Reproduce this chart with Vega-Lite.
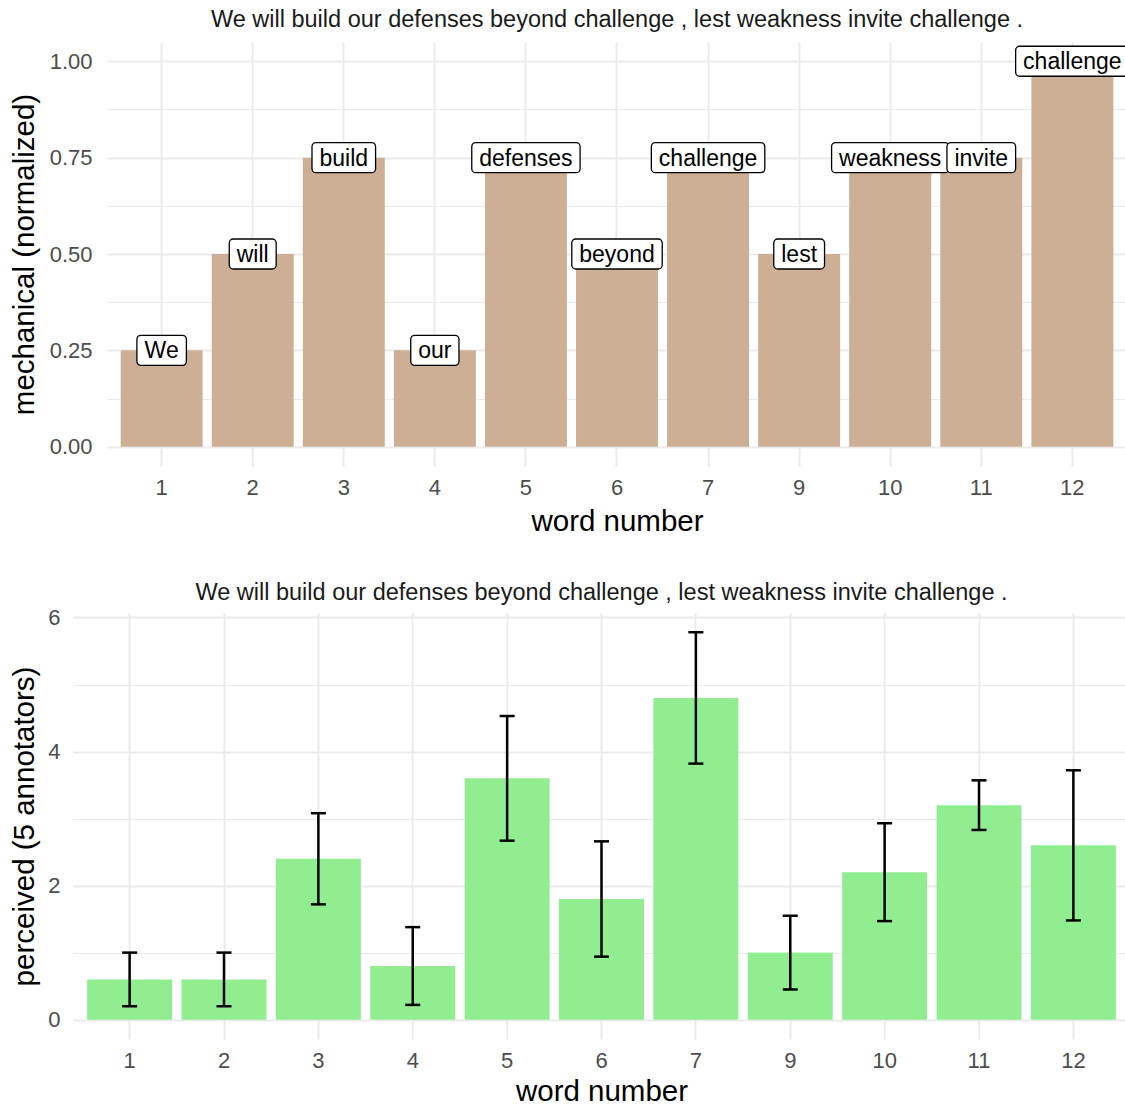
{
  "$schema": "https://vega.github.io/schema/vega-lite/v6.json",
  "background": "white",
  "padding": {"left": 8, "top": 7, "right": 0, "bottom": 0},
  "spacing": 44,
  "config": {
    "font": "Liberation Sans",
    "view": {"stroke": null},
    "axis": {
      "domain": false,
      "ticks": false,
      "gridColor": "#EBEBEB",
      "labelColor": "#4D4D4D",
      "labelFontSize": 22,
      "labelFont": "Liberation Sans",
      "titleFont": "Liberation Sans",
      "titleFontSize": 29.5,
      "titleFontWeight": "normal",
      "titleColor": "black"
    },
    "title": {"fontSize": 23.5, "fontWeight": "normal", "color": "#1A1A1A", "font": "Liberation Sans", "frame": "group"}
  },
  "datasets": {
    "mech": [
      {"n": "1", "word": "We", "mech": 0.25},
      {"n": "2", "word": "will", "mech": 0.5},
      {"n": "3", "word": "build", "mech": 0.75},
      {"n": "4", "word": "our", "mech": 0.25},
      {"n": "5", "word": "defenses", "mech": 0.75},
      {"n": "6", "word": "beyond", "mech": 0.5},
      {"n": "7", "word": "challenge", "mech": 0.75},
      {"n": "9", "word": "lest", "mech": 0.5},
      {"n": "10", "word": "weakness", "mech": 0.75},
      {"n": "11", "word": "invite", "mech": 0.75},
      {"n": "12", "word": "challenge", "mech": 1.0}
    ],
    "perc": [
      {"n": "1", "perc": 0.6, "lo": 0.2, "hi": 1.0},
      {"n": "2", "perc": 0.6, "lo": 0.2, "hi": 1.0},
      {"n": "3", "perc": 2.4, "lo": 1.72, "hi": 3.08},
      {"n": "4", "perc": 0.8, "lo": 0.22, "hi": 1.38},
      {"n": "5", "perc": 3.6, "lo": 2.67, "hi": 4.53},
      {"n": "6", "perc": 1.8, "lo": 0.94, "hi": 2.66},
      {"n": "7", "perc": 4.8, "lo": 3.82, "hi": 5.78},
      {"n": "9", "perc": 1.0, "lo": 0.45, "hi": 1.55},
      {"n": "10", "perc": 2.2, "lo": 1.47, "hi": 2.93},
      {"n": "11", "perc": 3.2, "lo": 2.83, "hi": 3.57},
      {"n": "12", "perc": 2.6, "lo": 1.48, "hi": 3.72}
    ],
    "blank": [{"k": 1}]
  },
  "vconcat": [
    {
      "spacing": 0,
      "hconcat": [
        {"width": 1, "height": 1, "data": {"name": "blank"}, "mark": {"type": "text", "text": ""}, "encoding": {}},
        {
          "width": 1020,
          "height": 424,
          "title": {"text": "We will build our defenses beyond challenge , lest weakness invite challenge .", "offset": 11},
          "data": {"name": "mech"},
          "transform": [
            {"calculate": "23*(0.556*length(datum.word) - 0.334*length(replace(datum.word, regexp('[^il]','g'), '')) - 0.278*length(replace(datum.word, regexp('[^ft]','g'), '')) - 0.223*length(replace(datum.word, regexp('[^r]','g'), '')) - 0.056*length(replace(datum.word, regexp('[^cksvxyz]','g'), '')) + 0.166*length(replace(datum.word, regexp('[^w]','g'), '')) + 0.388*length(replace(datum.word, regexp('[^W]','g'), ''))) + 15", "as": "bw"}
          ],
          "encoding": {
            "x": {
              "field": "n", "type": "ordinal", "sort": null,
              "scale": {"paddingInner": 0.1, "paddingOuter": 0.15},
              "axis": {"title": "word number", "labelAngle": 0, "grid": true, "gridWidth": 2, "labelPadding": 11, "titlePadding": 9}
            }
          },
          "layer": [
            {
              "mark": {"type": "bar", "color": "#CDAF95"},
              "encoding": {
                "y": {
                  "field": "mech", "type": "quantitative",
                  "scale": {"domain": [-0.05, 1.05], "nice": false, "zero": false},
                  "axis": {
                    "title": "mechanical (normalized)",
                    "values": [0, 0.125, 0.25, 0.375, 0.5, 0.625, 0.75, 0.875, 1],
                    "labelExpr": "datum.value % 0.25 === 0 ? format(datum.value, '.2f') : ''",
                    "gridWidth": {"condition": {"test": "datum.value % 0.25 !== 0", "value": 1}, "value": 2},
                    "labelPadding": 15,
                    "titlePadding": 10
                  }
                },
                "y2": {"datum": 0}
              }
            },
            {
              "mark": {"type": "tick", "thickness": 30, "fill": "white", "stroke": "black", "strokeWidth": 1.3, "cornerRadius": 4, "opacity": 1, "fillOpacity": 1},
              "encoding": {
                "y": {"field": "mech", "type": "quantitative"},
                "size": {"field": "bw", "type": "quantitative", "scale": null}
              }
            },
            {
              "mark": {"type": "text", "fontSize": 23, "color": "black", "font": "Liberation Sans", "baseline": "middle", "dy": 1},
              "encoding": {
                "y": {"field": "mech", "type": "quantitative"},
                "text": {"field": "word"}
              }
            }
          ]
        }
      ]
    },
    {
      "spacing": 0,
      "hconcat": [
        {"width": 1, "height": 1, "data": {"name": "blank"}, "mark": {"type": "text", "text": ""}, "encoding": {}},
        {
          "width": 1057,
          "height": 426,
          "title": {"text": "We will build our defenses beyond challenge , lest weakness invite challenge .", "offset": 2},
          "data": {"name": "perc"},
          "encoding": {
            "x": {
              "field": "n", "type": "ordinal", "sort": null,
              "scale": {"paddingInner": 0.1, "paddingOuter": 0.15},
              "axis": {"title": "word number", "labelAngle": 0, "grid": true, "gridWidth": 2, "labelPadding": 11, "titlePadding": 6}
            }
          },
          "layer": [
            {
              "mark": {"type": "bar", "color": "#90EE90"},
              "encoding": {
                "y": {
                  "field": "perc", "type": "quantitative",
                  "scale": {"domain": [-0.289, 6.067], "nice": false, "zero": false},
                  "axis": {
                    "title": "perceived (5 annotators)",
                    "values": [0, 1, 2, 3, 4, 5, 6],
                    "labelExpr": "datum.value % 2 === 0 ? datum.value : ''",
                    "gridWidth": {"condition": {"test": "datum.value % 2 !== 0", "value": 1}, "value": 2},
                    "labelPadding": 13,
                    "titlePadding": 8
                  }
                },
                "y2": {"datum": 0}
              }
            },
            {
              "mark": {"type": "rule", "color": "black", "strokeWidth": 2.5},
              "encoding": {
                "y": {"field": "lo", "type": "quantitative"},
                "y2": {"field": "hi"}
              }
            },
            {
              "mark": {"type": "tick", "color": "black", "thickness": 2.5, "size": 15, "opacity": 1},
              "encoding": {"y": {"field": "lo", "type": "quantitative"}}
            },
            {
              "mark": {"type": "tick", "color": "black", "thickness": 2.5, "size": 15, "opacity": 1},
              "encoding": {"y": {"field": "hi", "type": "quantitative"}}
            }
          ]
        }
      ]
    }
  ]
}
